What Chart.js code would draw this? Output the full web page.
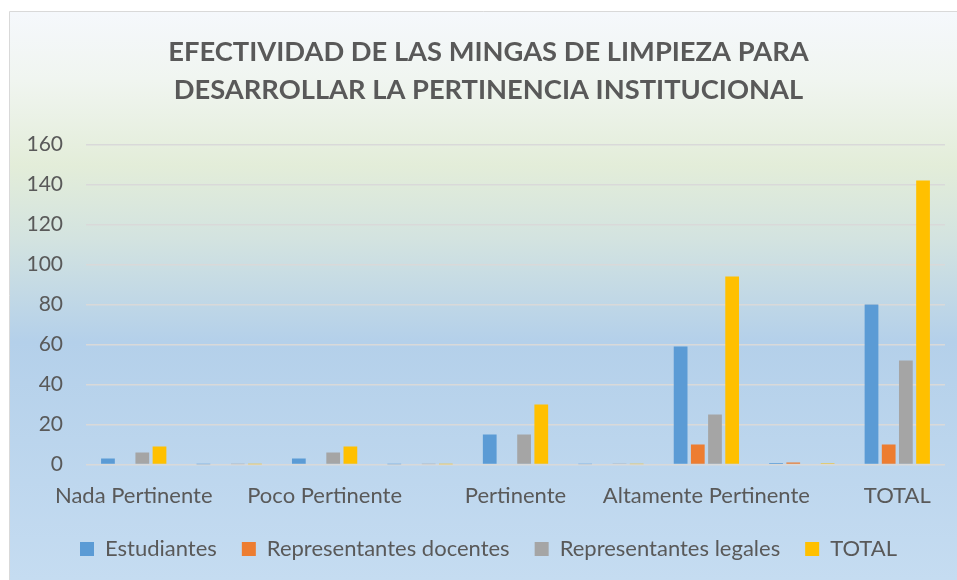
<!DOCTYPE html>
<html>
<head>
<meta charset="utf-8">
<script src="https://cdn.jsdelivr.net/npm/chart.js@4"></script>
<style>
  html, body { margin: 0; padding: 0; background: #fff; }
  #wrap { width: 957px; height: 580px; }
</style>
</head>
<body>
<div id="wrap"><canvas id="chart" width="957" height="580"></canvas></div>
<script>
// categories (every other one has no visible label in the original)
const categories = ['Nada Pertinente', '', 'Poco Pertinente', '', 'Pertinente', '', 'Altamente Pertinente', '', 'TOTAL'];
const estudiantes = [3, 0.04, 3, 0.04, 15, 0.19, 59, 0.74, 80];
const docentes = [0, 0, 0, 0, 0, 0, 10, 1, 10];
const legales = [6, 0.12, 6, 0.12, 15, 0.29, 25, 0.48, 52];
const total = [9, 0.06, 9, 0.06, 30, 0.21, 94, 0.66, 142];
const seriesNames = ['Estudiantes', 'Representantes docentes', 'Representantes legales', 'TOTAL'];
const yTicks = [0, 20, 40, 60, 80, 100, 120, 140, 160];

const colors = ['#5B9BD5', '#ED7D31', '#A5A5A5', '#FFC000'];
const txt = '#595959';
const font = 'Lato, "Open Sans", sans-serif';

// background box with vertical gradient
const bgPlugin = {
    id: 'bg',
    beforeDraw(chart) {
        const ctx = chart.ctx;
        const g = ctx.createLinearGradient(0, 12, 0, 580);
        g.addColorStop(0, '#f5f8fc');
        g.addColorStop(0.12, '#f0f5f0');
        g.addColorStop(0.27, '#e3edd9');
        g.addColorStop(0.4, '#d3e3e0');
        g.addColorStop(0.58, '#b4d0ea');
        g.addColorStop(1, '#c5dcf1');
        ctx.save();
        ctx.fillStyle = g;
        ctx.fillRect(10, 12, 947, 568);
        ctx.strokeStyle = '#d9d9d9';
        ctx.lineWidth = 1;
        ctx.beginPath();
        ctx.moveTo(9.5, 580);
        ctx.lineTo(9.5, 11.5);
        ctx.lineTo(957, 11.5);
        ctx.stroke();
        ctx.restore();
    }
};

// pull the legend row a little closer to the axis labels
const legendShift = {
    id: 'legendShift',
    afterLayout(chart) {
        if (chart.legend) {
            chart.legend.top -= 6;
            chart.legend.bottom -= 6;
        }
    }
};

const datasets = [estudiantes, docentes, legales, total].map((d, i) => ({
    label: seriesNames[i],
    data: d,
    backgroundColor: colors[i],
    borderWidth: 0,
    barPercentage: 0.8,
    categoryPercentage: 0.72
}));

new Chart(document.getElementById('chart').getContext('2d'), {
    type: 'bar',
    data: { labels: categories, datasets: datasets },
    plugins: [bgPlugin, legendShift],
    options: {
        responsive: false,
        animation: false,
        devicePixelRatio: 1,
        layout: { padding: { left: 20, right: 0, top: 33, bottom: 4 } },
        plugins: {
            title: {
                display: true,
                text: ['EFECTIVIDAD DE LAS MINGAS DE LIMPIEZA PARA', 'DESARROLLAR LA PERTINENCIA INSTITUCIONAL'],
                color: txt,
                font: { family: font, size: 27.3, weight: 'bold', lineHeight: 1.4 },
                padding: { top: 0, bottom: 35 }
            },
            legend: {
                position: 'bottom',
                labels: {
                    color: txt,
                    font: { family: font, size: 22 },
                    boxWidth: 14,
                    boxHeight: 14,
                    padding: 25
                }
            },
            tooltip: { enabled: false }
        },
        scales: {
            x: {
                grid: { display: false },
                border: { display: false },
                ticks: { color: txt, font: { family: font, size: 22 }, autoSkip: false, maxRotation: 0, padding: 10 }
            },
            y: {
                min: 0,
                max: 160,
                afterBuildTicks: s => { s.ticks = yTicks.map(v => ({ value: v })); },
                afterFit: s => { s.width = 66; },
                grid: { color: '#d9d9d9', lineWidth: 1.5, drawTicks: false },
                border: { display: false },
                ticks: { color: txt, font: { family: font, size: 21 }, padding: 23 }
            },
            y2: {
                position: 'right',
                display: true,
                min: 0,
                max: 160,
                afterFit: s => { s.width = 12; },
                grid: { display: false },
                border: { display: false },
                ticks: { display: false }
            }
        }
    }
});
</script>
</body>
</html>
